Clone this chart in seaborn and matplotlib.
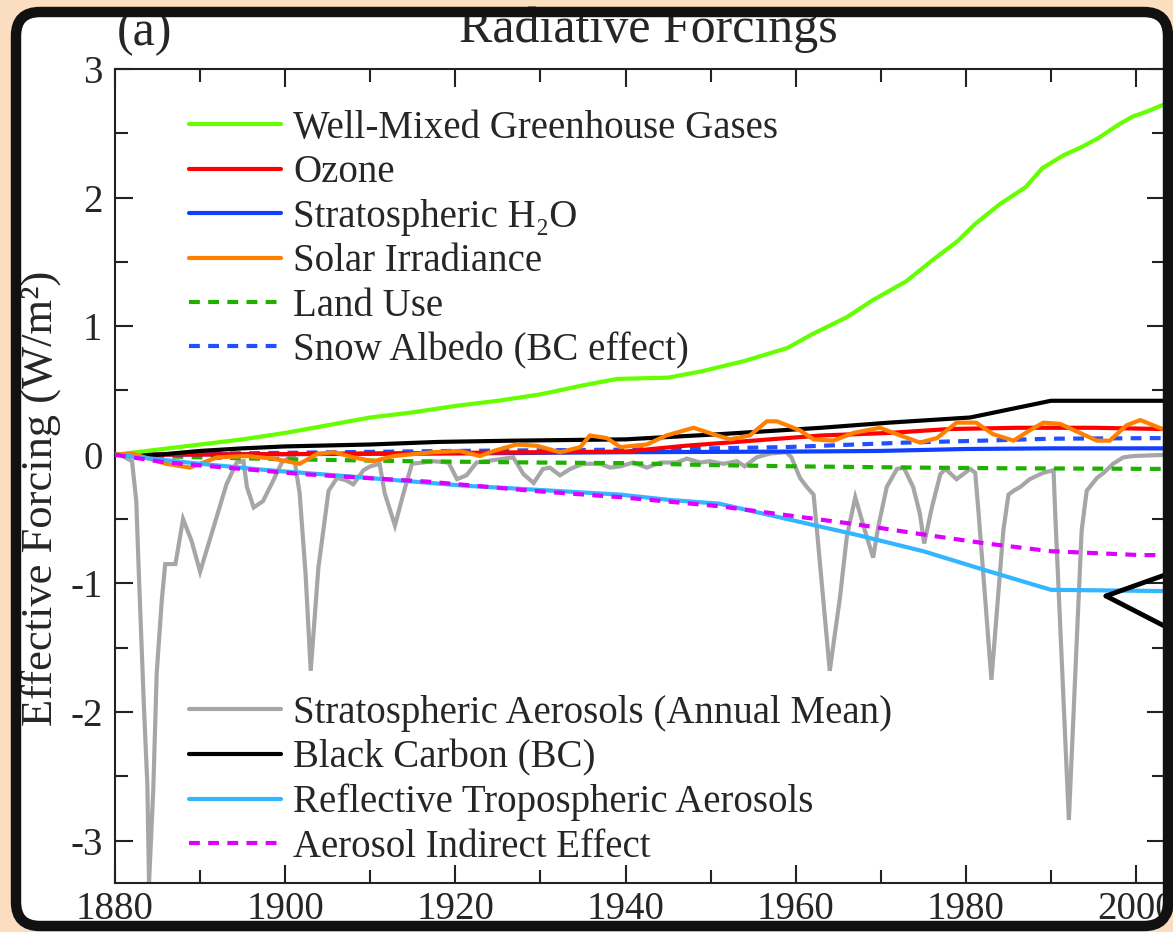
import numpy as np
import pandas as pd
import matplotlib
matplotlib.use("Agg")
import matplotlib.pyplot as plt
import seaborn as sns
from matplotlib.patches import FancyBboxPatch
from matplotlib.transforms import IdentityTransform
from matplotlib.lines import Line2D
from matplotlib.ticker import MultipleLocator

# ---------------- data ----------------
wmghg_years = [1880, 1885, 1890, 1895, 1900, 1905, 1910, 1915, 1920, 1925, 1930, 1935, 1939,
               1945, 1949, 1954, 1959, 1962, 1966, 1969, 1973, 1976, 1979, 1981, 1984, 1987,
               1989, 1991.5, 1993.5, 1995.5, 1998, 1999.6, 2001.3, 2003.5]
wmghg_vals = [0.0, 0.04, 0.08, 0.12, 0.17, 0.23, 0.29, 0.33, 0.38, 0.42, 0.47, 0.54, 0.59,
              0.60, 0.65, 0.73, 0.83, 0.94, 1.07, 1.20, 1.35, 1.51, 1.66, 1.79, 1.95, 2.08,
              2.23, 2.33, 2.39, 2.46, 2.57, 2.63, 2.67, 2.73]

ozone_years = [1880, 1900, 1920, 1930, 1940, 1947, 1955, 1963, 1971, 1978, 1986, 1995, 2003.5]
ozone_vals = [0.0, 0.005, 0.015, 0.02, 0.025, 0.07, 0.11, 0.15, 0.17, 0.20, 0.21, 0.21, 0.20]

h2o_years = [1880, 1920, 1940, 1960, 1970, 1980, 1990, 2003.5]
h2o_vals = [0.0, 0.01, 0.02, 0.025, 0.03, 0.045, 0.05, 0.05]

solar_years = [1880, 1882, 1886, 1888.8, 1892, 1895.5, 1898.6, 1901.7, 1903.7, 1905.7, 1908,
               1910.4, 1912.7, 1917.4, 1920.5, 1922.9, 1924.5, 1927.2, 1929.6, 1932.3, 1934.7,
               1935.8, 1937.8, 1939.4, 1942.5, 1944.8, 1948, 1950.3, 1952.3, 1954.6, 1956.6,
               1957.8, 1960.5, 1962.1, 1964.4, 1966.8, 1969.9, 1971.9, 1974.6, 1976.6, 1978.9,
               1981.2, 1983.2, 1985.6, 1987.5, 1989.1, 1991.1, 1993.4, 1995.4, 1996.9, 1998.9,
               2000.5, 2003.1]
solar_vals = [0.0, 0.01, -0.07, -0.10, -0.02, -0.01, -0.03, -0.07, 0.005, 0.02, -0.02,
              -0.05, -0.01, 0.02, 0.03, -0.01, 0.03, 0.08, 0.07, 0.02, 0.06,
              0.15, 0.13, 0.06, 0.08, 0.15, 0.21, 0.16, 0.12, 0.15, 0.26,
              0.26, 0.19, 0.12, 0.11, 0.17, 0.21, 0.16, 0.095, 0.13, 0.25,
              0.25, 0.16, 0.11, 0.19, 0.25, 0.24, 0.17, 0.11, 0.11, 0.23,
              0.27, 0.20]

landuse_years = [1880, 1890, 1900, 1915, 1929, 1940, 1950, 1960, 1975, 1985, 2003.5]
landuse_vals = [0.0, -0.02, -0.035, -0.05, -0.06, -0.065, -0.08, -0.09, -0.10, -0.105, -0.11]

snow_years = [1880, 1900, 1920, 1940, 1950, 1959, 1965, 1973, 1982, 1990, 2003.5]
snow_vals = [0.0, 0.015, 0.03, 0.04, 0.05, 0.06, 0.075, 0.095, 0.11, 0.125, 0.13]

strat_years = [1880, 1880.6, 1882.0, 1882.5, 1882.8, 1883.4, 1883.8, 1884.0, 1884.5, 1884.9,
               1885.5, 1885.9, 1887.1, 1888.0, 1889.0, 1890.0, 1891.6, 1893.1, 1894.3, 1895.1,
               1895.5, 1896.3, 1897.4, 1898.6, 1899.6, 1901.0, 1901.7, 1902.4, 1903.0, 1903.9,
               1905.1, 1906.1, 1907.2, 1908.0, 1909.2, 1910.0, 1911.1, 1911.7, 1912.9, 1913.9,
               1914.9, 1917.4, 1919.2, 1920.2, 1921.3, 1922.5, 1926.8, 1928.0, 1929.2, 1930.3,
               1931.1, 1932.3, 1933.5, 1935.0, 1937.0, 1938.2, 1939.4, 1940.9, 1942.5, 1944.1,
               1946.0, 1947.2, 1948.8, 1949.9, 1951.5, 1953.1, 1954.0, 1955.4, 1957.0, 1958.9,
               1959.5, 1960.5, 1961.3, 1962.1, 1962.5, 1964.0, 1965.2, 1966.0, 1967.0, 1968.0,
               1969.1, 1969.7, 1970.7, 1971.9, 1972.7, 1973.8, 1974.6, 1975.1, 1976.0, 1977.0,
               1977.6, 1978.9, 1980.5, 1981.1, 1981.5, 1983.0, 1984.4, 1985.0, 1985.6, 1986.4,
               1987.5, 1989.1, 1990.3, 1990.5, 1992.1, 1993.6, 1994.2, 1995.4, 1996.2, 1997.3,
               1998.5, 1999.7, 2003.5]
strat_vals = [0.0, 0.0, -0.05, -0.36, -0.92, -1.96, -2.56, -3.33, -2.6, -1.7,
              -1.13, -0.85, -0.85, -0.50, -0.67, -0.91, -0.56, -0.23, -0.06, -0.05,
              -0.25, -0.41, -0.36, -0.20, -0.06, 0.0, -0.30, -0.93, -1.68, -0.88,
              -0.28, -0.18, -0.20, -0.23, -0.12, -0.09, -0.07, -0.30, -0.55, -0.30,
              -0.07, -0.05, -0.06, -0.19, -0.16, -0.06, -0.02, -0.15, -0.22, -0.11,
              -0.10, -0.16, -0.11, -0.07, -0.07, -0.10, -0.09, -0.06, -0.10, -0.06,
              -0.06, -0.03, -0.06, -0.05, -0.07, -0.05, -0.09, -0.02, 0.01, 0.02,
              -0.02, -0.18, -0.25, -0.31, -0.59, -1.68, -1.11, -0.64, -0.33, -0.56,
              -0.80, -0.56, -0.25, -0.11, -0.10, -0.25, -0.46, -0.69, -0.41, -0.15,
              -0.11, -0.19, -0.11, -0.14, -0.46, -1.75, -0.59, -0.31, -0.28, -0.25,
              -0.19, -0.14, -0.12, -0.46, -2.84, -0.59, -0.28, -0.18, -0.14, -0.07,
              -0.02, -0.01, 0.0]

bc_years = [1880, 1885, 1890, 1895, 1900, 1910, 1918, 1927, 1940, 1951, 1963, 1971, 1980.5, 1990, 2003.5]
bc_vals = [0.0, 0.0, 0.03, 0.05, 0.065, 0.08, 0.10, 0.11, 0.12, 0.16, 0.21, 0.25, 0.29, 0.42, 0.42]

refl_years = [1880, 1890, 1898, 1906, 1913.5, 1921, 1929, 1939.4, 1945, 1951, 1959, 1967,
              1975, 1982.4, 1990, 2003.5]
refl_vals = [0.0, -0.07, -0.12, -0.16, -0.20, -0.24, -0.27, -0.31, -0.35, -0.38, -0.50, -0.62,
             -0.75, -0.90, -1.05, -1.06]

indirect_years = [1880, 1886, 1902, 1917, 1929, 1939.4, 1951, 1959, 1967, 1975, 1982.4, 1990,
                  2000.5, 2003.5]
indirect_vals = [0.0, -0.06, -0.15, -0.21, -0.28, -0.33, -0.40, -0.47, -0.54, -0.62, -0.69,
                 -0.75, -0.78, -0.78]

labels = ["Well-Mixed Greenhouse Gases", "Ozone", "Stratospheric H\u2082O", "Solar Irradiance",
          "Land Use", "Snow Albedo (BC effect)", "Stratospheric Aerosols (Annual Mean)",
          "Black Carbon (BC)", "Reflective Tropospheric Aerosols", "Aerosol Indirect Effect"]
x_ticks = [1880, 1900, 1920, 1940, 1960, 1980, 2000]
y_ticks = [-3, -2, -1, 0, 1, 2, 3]
title_text = "Radiative Forcings"
panel_text = "(a)"
ylabel_text = "Effective Forcing (W/m\u00b2)"

# ---------------- style ----------------
sns.set_style("ticks")
plt.rcParams["font.family"] = ["Liberation Serif", "DejaVu Serif"]
plt.rcParams["axes.unicode_minus"] = False

W, H = 1173, 932
fig = plt.figure(figsize=(W / 100, H / 100), dpi=100)
fig.patch.set_facecolor("#FBDDBF")

# white card behind the plot
card = FancyBboxPatch((16, H - 926), 1152, 914, boxstyle="round,pad=0,rounding_size=24",
                      transform=IdentityTransform(), facecolor="white", edgecolor="none", zorder=-1)
fig.add_artist(card)

ax = fig.add_axes([115 / W, (H - 883) / H, (1165 - 115) / W, (883 - 69) / H])
ax.set_facecolor("white")

series = [
    (wmghg_years, wmghg_vals, "#66FF00", "-"),
    (ozone_years, ozone_vals, "#FF0000", "-"),
    (h2o_years, h2o_vals, "#1040FF", "-"),
    (solar_years, solar_vals, "#FF8000", "-"),
    (landuse_years, landuse_vals, "#20B000", (0, (2.6, 2.0))),
    (snow_years, snow_vals, "#2050FF", (0, (2.6, 2.0))),
    (strat_years, strat_vals, "#A6A6A6", "-"),
    (bc_years, bc_vals, "#000000", "-"),
    (refl_years, refl_vals, "#33B5FF", "-"),
    (indirect_years, indirect_vals, "#DD00FF", (0, (2.6, 2.0))),
]
zorders = [3.4, 3.2, 3.1, 3.5, 3.0, 3.05, 2.0, 3.3, 3.6, 3.7]

handles = []
for (xs, ys, col, ls), lab, zo in zip(series, labels, zorders):
    sns.lineplot(x=xs, y=ys, ax=ax, color=col, linewidth=3, linestyle=ls,
                 estimator=None, sort=False, zorder=zo, legend=False)
    ln = ax.lines[-1]
    ln.set_label(lab)
    ln.set_solid_joinstyle("miter")
    handles.append(ln)

ax.set_xlim(1880, 2003.4)
ax.set_ylim(-3.33, 3.0)
ax.set_xticks(x_ticks)
ax.set_xticklabels([str(v) for v in x_ticks])
ax.set_yticks(y_ticks)
ax.set_yticklabels([str(v) for v in y_ticks])
ax.xaxis.set_minor_locator(MultipleLocator(10))
ax.yaxis.set_minor_locator(MultipleLocator(0.5))
ax.tick_params(which="both", direction="in", top=True, right=True, width=1.5, color="#222222")
ax.tick_params(which="major", length=13, labelsize=28)
ax.tick_params(which="minor", length=9.5)
ax.tick_params(axis="x", pad=6)
ax.tick_params(axis="y", pad=9)
for sp in ax.spines.values():
    sp.set_linewidth(1.5)
    sp.set_color("#222222")
ax.set_xlabel("")
ax.set_ylabel(ylabel_text, fontsize=32)
ax.yaxis.set_label_coords(-0.0514, 0.472)

leg_kw = dict(loc="upper left", frameon=False, fontsize=28, handlelength=2.37,
              handletextpad=0.31, labelspacing=0.19, borderpad=0, borderaxespad=0)
leg1 = ax.legend(handles=handles[:6], bbox_to_anchor=(0.0705, 0.9496), **leg_kw)
ax.add_artist(leg1)
leg2 = ax.legend(handles=handles[6:], bbox_to_anchor=(0.0705, 0.231), **leg_kw)

fig.text(648 / W, 1 - 42 / H, title_text, ha="center", va="baseline", fontsize=36)
fig.text(117 / W, 1 - 45 / H, panel_text, ha="left", va="baseline", fontsize=36)

# black frame of the screenshot
frame = FancyBboxPatch((16, H - 926), 1152, 914, boxstyle="round,pad=0,rounding_size=24",
                       transform=IdentityTransform(), facecolor="none", edgecolor="#111111",
                       linewidth=7.5, zorder=10)
fig.add_artist(frame)

# hand-drawn marker at the right edge
for yy in (H - 571, H - 632):
    fig.add_artist(Line2D([1106, 1176], [H - 596, yy], transform=IdentityTransform(),
                          color="black", linewidth=3.5, zorder=9))

fig.savefig("out.png", dpi=100, facecolor=fig.get_facecolor())
